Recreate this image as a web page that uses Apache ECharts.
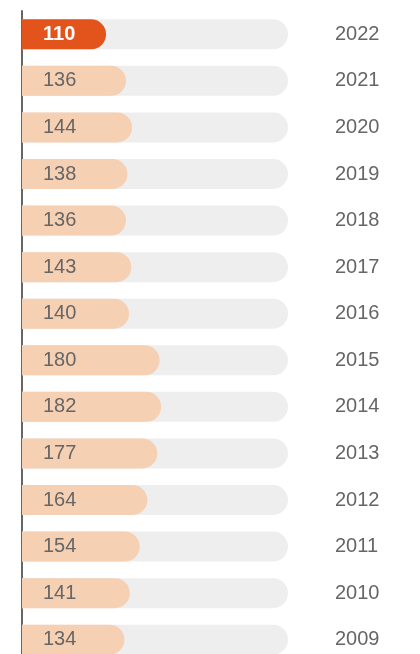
<!DOCTYPE html>
<html><head><meta charset="utf-8">
<script src="https://cdn.jsdelivr.net/npm/echarts@6/dist/echarts.min.js"></script>
<style>html,body{margin:0;padding:0;background:#fff}#c{width:420px;height:654px}</style>
</head><body><div id="c"></div>
<script>
var years = ['2022','2021','2020','2019','2018','2017','2016','2015','2014','2013','2012','2011','2010','2009'];
var values = [110,136,144,138,136,143,140,180,182,177,164,154,141,134];
var highlightYear = '2022';
var axisMax = 348;

var chart = echarts.init(document.getElementById('c'));
chart.setOption({
  animation: false,
  grid: {left: 22, width: 266, top: 11, height: 652, containLabel: false, outerBoundsMode: 'none'},
  xAxis: {type: 'value', min: 0, max: axisMax, show: false},
  yAxis: [{
    type: 'category', data: years, inverse: true, position: 'left',
    axisLine: {show: true, lineStyle: {color: '#666', width: 2}},
    axisTick: {show: false}, axisLabel: {show: false}, splitLine: {show: false}
  }, {
    type: 'category', data: years, inverse: true, position: 'right',
    axisLine: {show: false}, axisTick: {show: false}, splitLine: {show: false},
    axisLabel: {show: true, margin: 47, color: '#666', fontSize: 20, fontFamily: 'Liberation Sans, Arial, sans-serif'}
  }],
  series: [{
    type: 'bar', yAxisIndex: 0, barWidth: 30,
    showBackground: true,
    backgroundStyle: {color: '#eeeeee', borderRadius: [0, 15, 15, 0]},
    data: values.map(function (v, i) {
      var hl = years[i] === highlightYear;
      return {
        value: v,
        itemStyle: {color: hl ? '#e2541b' : '#f6d0b3', borderRadius: [0, 15, 15, 0]},
        label: {color: hl ? '#fff' : '#666', fontWeight: hl ? 'bold' : 'normal'}
      };
    }),
    label: {show: true, position: 'insideLeft', distance: 21, fontSize: 20, fontFamily: 'Liberation Sans, Arial, sans-serif'}
  }]
});
</script></body></html>
